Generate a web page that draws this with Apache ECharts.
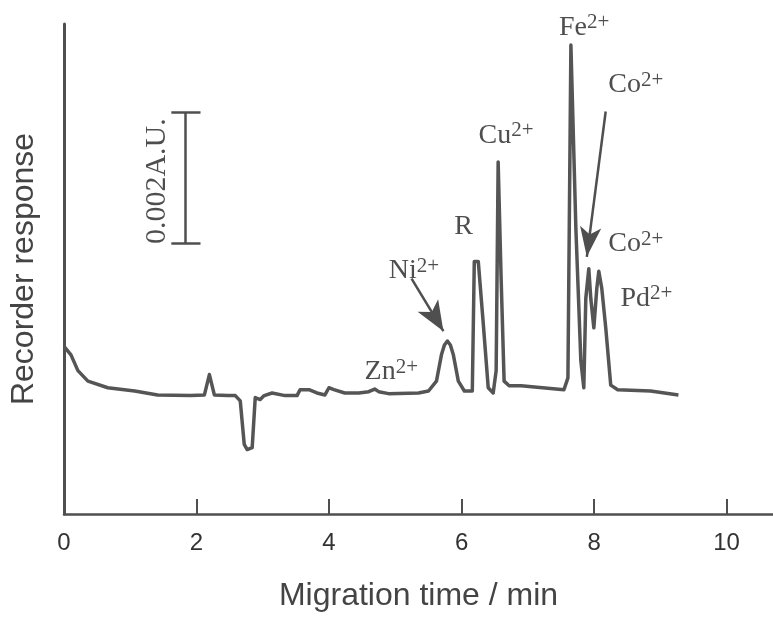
<!DOCTYPE html>
<html>
<head>
<meta charset="utf-8">
<title>Recorder response vs migration time</title>
<script src="https://cdn.jsdelivr.net/npm/echarts@6/dist/echarts.min.js"></script>
<style>
html, body { margin: 0; padding: 0; background: #fff; }
#chart { width: 773px; height: 617px; }
</style>
</head>
<body>
<div id="chart"></div>
<script>
// trace: time (min) / response (mAU above the x axis)
var traceTime = [0.00, 0.105, 0.210, 0.361, 0.661, 1.067, 1.413, 1.909, 2.119, 2.194,
  2.269, 2.465, 2.585, 2.660, 2.720, 2.765, 2.840, 2.886, 2.961, 3.021,
  3.141, 3.336, 3.517, 3.562, 3.697, 3.817, 3.938, 3.998, 4.073, 4.238,
  4.449, 4.599, 4.689, 4.749, 4.899, 5.350, 5.501, 5.621, 5.696, 5.741,
  5.786, 5.831, 5.876, 5.951, 6.042, 6.162, 6.192, 6.252, 6.327, 6.402,
  6.477, 6.522, 6.552, 6.597, 6.642, 6.718, 6.898, 7.545, 7.605, 7.650,
  7.725, 7.800, 7.845, 7.875, 7.920, 7.950, 7.996, 8.041, 8.071, 8.116,
  8.176, 8.251, 8.356, 8.852, 9.273];
var traceResp = [2.55, 2.42, 2.18, 2.02, 1.92, 1.87, 1.81, 1.80, 1.81, 2.12,
  1.81, 1.80, 1.80, 1.72, 1.06, 0.98, 1.01, 1.77, 1.74, 1.80,
  1.84, 1.80, 1.80, 1.89, 1.89, 1.84, 1.81, 1.92, 1.89, 1.84,
  1.84, 1.86, 1.90, 1.86, 1.83, 1.84, 1.87, 2.02, 2.42, 2.57,
  2.63, 2.57, 2.42, 2.02, 1.87, 1.87, 3.84, 3.84, 2.90, 1.92,
  1.84, 2.18, 5.35, 3.58, 2.02, 1.95, 1.95, 1.89, 2.07, 7.13,
  4.34, 2.33, 1.92, 3.28, 3.73, 3.28, 2.83, 3.43, 3.69, 3.43,
  2.83, 1.96, 1.89, 1.87, 1.81];

// peak labels (centre of each label, data units)
var ionName   = ['Fe', 'Co', 'Cu', 'R', 'Co', 'Pd', 'Ni', 'Zn'];
var ionCharge = ['2+', '2+', '2+', '', '2+', '2+', '2+', '2+'];
var ionTime   = [7.85, 8.63, 6.67, 6.03, 8.63, 8.79, 5.28, 4.94];
var ionResp   = [7.40, 6.53, 5.76, 4.37, 4.11, 3.28, 3.70, 2.16];

// arrows: [fromTime, fromResp, toTime, toResp]
var niArrow = [5.245, 3.58, 5.726, 2.78];
var coArrow = [8.175, 6.12, 7.890, 3.91];

// 0.002 A.U. scale bar
var barTime = 1.83, barCapFrom = 1.62, barCapTo = 2.06;
var barLow = 4.11, barHigh = 6.11;
var barLabel = '0.002A.U.';
var barLabelPos = [1.40, 5.06];

var xTicks = [2, 4, 6, 8, 10];
var xLabels = [0, 2, 4, 6, 8, 10];

var ink = '#4f4f4f';
var textInk = '#222';

var traceData = traceTime.map(function (t, i) { return [t, traceResp[i]]; });
var ionData = ionName.map(function (n, i) {
  return { name: n, charge: ionCharge[i], value: [ionTime[i], ionResp[i]] };
});

var myChart = echarts.init(document.getElementById('chart'));
var option = {
  backgroundColor: '#fff',
  animation: false,
  grid: { left: 61, right: 0, top: 24, bottom: 100 },
  xAxis: {
    type: 'value',
    min: 0,
    max: 10.7,
    name: 'Migration time / min',
    nameLocation: 'middle',
    nameGap: 66,
    nameTextStyle: { fontFamily: 'Liberation Sans', fontSize: 32, color: '#444' },
    axisLine: { lineStyle: { color: ink, width: 2.5 } },
    axisTick: { inside: true, length: 15, customValues: xTicks, lineStyle: { color: ink, width: 2 } },
    axisLabel: { customValues: xLabels, margin: 17, fontFamily: 'Liberation Sans', fontSize: 24, color: '#333' },
    splitLine: { show: false }
  },
  yAxis: {
    type: 'value',
    min: 0,
    max: 7.45,
    name: 'Recorder response',
    nameLocation: 'middle',
    nameGap: 24,
    nameTextStyle: { fontFamily: 'Liberation Sans', fontSize: 32, color: '#444' },
    axisLine: { show: true, lineStyle: { color: ink, width: 3 } },
    axisTick: { show: false },
    axisLabel: { show: false },
    splitLine: { show: false }
  },
  series: [
    {
      name: 'trace',
      type: 'line',
      data: traceData,
      showSymbol: false,
      symbol: 'none',
      lineStyle: { color: '#555', width: 3.5, join: 'round' },
      silent: true
    },
    {
      name: 'labels',
      type: 'scatter',
      data: ionData,
      symbolSize: 0,
      silent: true,
      label: {
        show: true,
        position: 'inside',
        formatter: function (p) {
          return '{b|' + p.data.name + '}' + (p.data.charge ? '{s|' + p.data.charge + '}' : '');
        },
        rich: {
          b: { fontFamily: 'Liberation Serif', fontSize: 28, color: textInk, lineHeight: 30 },
          s: { fontFamily: 'Liberation Serif', fontSize: 21, color: textInk, verticalAlign: 'top', lineHeight: 30 }
        }
      }
    },
    {
      name: 'scale label',
      type: 'scatter',
      data: [{ value: barLabelPos }],
      symbolSize: 0,
      silent: true,
      label: {
        show: true,
        position: 'inside',
        rotate: 90,
        formatter: barLabel,
        fontFamily: 'Liberation Serif',
        fontSize: 30,
        color: textInk
      }
    },
    {
      name: 'marks',
      type: 'line',
      data: [],
      silent: true,
      markLine: {
        silent: true,
        animation: false,
        label: { show: false },
        lineStyle: { color: ink, width: 2.5, type: 'solid' },
        symbol: 'none',
        data: [
          [{ coord: [barCapFrom, barHigh] }, { coord: [barCapTo, barHigh] }],
          [{ coord: [barTime, barHigh] }, { coord: [barTime, barLow] }],
          [{ coord: [barCapFrom, barLow] }, { coord: [barCapTo, barLow] }],
          [{ coord: [niArrow[0], niArrow[1]], symbol: 'none' },
           { coord: [niArrow[2], niArrow[3]], symbol: 'arrow', symbolSize: [18, 30] }],
          [{ coord: [coArrow[0], coArrow[1]], symbol: 'none' },
           { coord: [coArrow[2], coArrow[3]], symbol: 'arrow', symbolSize: [16, 30] }]
        ]
      }
    }
  ]
};
myChart.setOption(option);
</script>
</body>
</html>
